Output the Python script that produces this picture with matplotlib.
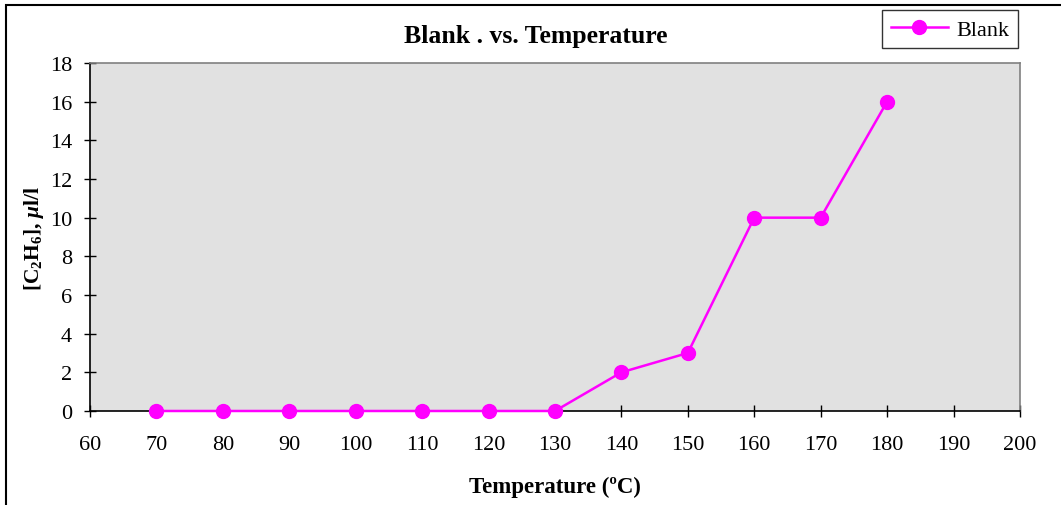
import matplotlib.pyplot as plt
from matplotlib.patches import Rectangle

temperature = [70, 80, 90, 100, 110, 120, 130, 140, 150, 160, 170, 180]
blank = [0, 0, 0, 0, 0, 0, 0, 2, 3, 10, 10, 16]

xticks = list(range(60, 201, 10))
yticks = list(range(0, 19, 2))

plt.rcParams['font.family'] = ['Liberation Serif', 'DejaVu Serif']
plt.rcParams['mathtext.fontset'] = 'custom'
plt.rcParams['mathtext.rm'] = 'Liberation Serif:bold'
plt.rcParams['mathtext.it'] = 'Liberation Serif:bold:italic'
plt.rcParams['mathtext.bf'] = 'Liberation Serif:bold'

fig = plt.figure(figsize=(10.61, 5.06), dpi=100)
ax = fig.add_axes([0.0848, 0.1858, 0.8765, 0.6877])
ax.set_facecolor('#e1e1e1')

ax.plot(temperature, blank, color='#ff00ff', lw=1.8, marker='o',
        markersize=10, label='Blank', clip_on=False, zorder=5)

ax.set_xlim(60, 200)
ax.set_ylim(0, 18)
ax.set_xticks(xticks)
ax.set_yticks(yticks)
ax.tick_params(direction='inout', length=8, width=1, labelsize=16)
ax.tick_params(axis='x', pad=13)
ax.tick_params(axis='y', pad=9)
ax.spines['left'].set_color('black')
ax.spines['bottom'].set_color('black')
ax.spines['top'].set_color('#808080')
ax.spines['right'].set_color('#808080')
for s in ax.spines.values():
    s.set_linewidth(1.2)

fig.text(0.505, 0.928, 'Blank . vs. Temperature', fontsize=18.5, fontweight='bold',
         ha='center', va='center')
ax.set_xlabel('Temperature (ºC)', fontsize=16.5, fontweight='bold', labelpad=16)
ax.set_ylabel(r'[C$_2$H$_6$], $\mu$l/l', fontsize=15.5, fontweight='bold', labelpad=3)

leg = fig.legend(loc='upper right', bbox_to_anchor=(0.9595, 0.978), fontsize=16,
                 frameon=True, fancybox=False, edgecolor='black', borderpad=0.4,
                 borderaxespad=0, handlelength=2.6, handletextpad=0.35)
leg.get_frame().set_linewidth(1.0)

fig.patches.append(Rectangle((0.006, -0.05), 1.1, 1.038, transform=fig.transFigure,
                             fill=False, edgecolor='black', lw=1.5))

fig.savefig('out.png', dpi=100)
